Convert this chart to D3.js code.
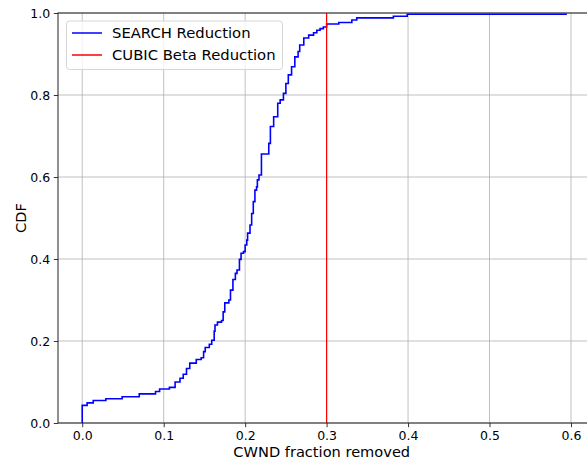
<!DOCTYPE html>
<html>
<head>
<meta charset="utf-8">
<script src="https://cdn.jsdelivr.net/npm/d3@7"></script>
<style>
  html, body { margin: 0; padding: 0; background: #fff; }
  svg { display: block; font-family: "DejaVu Sans", sans-serif; }
</style>
</head>
<body>
<div id="chart"></div>
<script>
// CDF of the SEARCH reduction
const searchX = [0.000, 0.000, 0.006, 0.0135, 0.029, 0.049, 0.070, 0.090, 0.095, 0.107,
  0.114, 0.120, 0.124, 0.128, 0.132, 0.140, 0.146, 0.149, 0.151, 0.156,
  0.159, 0.162, 0.163, 0.166, 0.171, 0.173, 0.175, 0.180, 0.182, 0.185,
  0.188, 0.190, 0.193, 0.195, 0.198, 0.200, 0.202, 0.203, 0.206, 0.208,
  0.210, 0.212, 0.214, 0.215, 0.217, 0.220, 0.229, 0.231, 0.235, 0.240,
  0.243, 0.247, 0.250, 0.253, 0.257, 0.261, 0.265, 0.267, 0.272, 0.278,
  0.284, 0.288, 0.292, 0.296, 0.300, 0.315, 0.331, 0.337, 0.382, 0.399, 0.595];
const searchCdf = [0.000, 0.043, 0.049, 0.055, 0.059, 0.064, 0.071, 0.077, 0.083, 0.087,
  0.100, 0.109, 0.119, 0.133, 0.146, 0.155, 0.159, 0.174, 0.184, 0.192,
  0.202, 0.224, 0.239, 0.246, 0.250, 0.271, 0.293, 0.300, 0.324, 0.350,
  0.365, 0.373, 0.399, 0.414, 0.418, 0.434, 0.446, 0.463, 0.483, 0.511,
  0.540, 0.568, 0.576, 0.593, 0.605, 0.656, 0.682, 0.723, 0.747, 0.780,
  0.788, 0.804, 0.828, 0.849, 0.869, 0.893, 0.906, 0.922, 0.939, 0.946,
  0.952, 0.958, 0.962, 0.966, 0.973, 0.977, 0.983, 0.988, 0.992, 0.997, 0.997];
const cubicBeta = 0.3;

const xTicks = [0.0, 0.1, 0.2, 0.3, 0.4, 0.5, 0.6];
const yTicks = [0.0, 0.2, 0.4, 0.6, 0.8, 1.0];
const legendLabels = ["SEARCH Reduction", "CUBIC Beta Reduction"];
const legendColors = ["#0000ff", "#ff0000"];

const WIDTH = 587;
const HEIGHT = 466;
const PLOT = { left: 58, right: 589.5, top: 13, bottom: 423 };

const points = searchX.map((x, i) => ({ x, y: searchCdf[i] }));

const xScale = d3.scaleLinear().domain([-0.02975, 0.62275]).range([PLOT.left, PLOT.right]);
const yScale = d3.scaleLinear().domain([0, 1]).range([PLOT.bottom, PLOT.top]);

const svg = d3.select("#chart").append("svg")
  .attr("width", WIDTH)
  .attr("height", HEIGHT)
  .attr("viewBox", `0 0 ${WIDTH} ${HEIGHT}`);

svg.append("defs").append("clipPath").attr("id", "plot-clip")
  .append("rect")
  .attr("x", PLOT.left).attr("y", PLOT.top - 2)
  .attr("width", PLOT.right - PLOT.left).attr("height", PLOT.bottom - PLOT.top + 2);

// grid
svg.append("g")
  .selectAll("line")
  .data(xTicks)
  .join("line")
  .attr("x1", (d) => xScale(d)).attr("x2", (d) => xScale(d))
  .attr("y1", PLOT.top).attr("y2", PLOT.bottom)
  .attr("stroke", "#b0b0b0").attr("stroke-width", 0.8);

svg.append("g")
  .selectAll("line")
  .data(yTicks)
  .join("line")
  .attr("x1", PLOT.left).attr("x2", PLOT.right)
  .attr("y1", (d) => yScale(d)).attr("y2", (d) => yScale(d))
  .attr("stroke", "#b0b0b0").attr("stroke-width", 0.8);

// series
const line = d3.line()
  .x((d) => xScale(d.x))
  .y((d) => yScale(d.y))
  .curve(d3.curveStepAfter);

svg.append("path")
  .datum(points)
  .attr("clip-path", "url(#plot-clip)")
  .attr("d", line)
  .attr("fill", "none")
  .attr("stroke", legendColors[0])
  .attr("stroke-width", 1.6);

svg.append("line")
  .attr("x1", xScale(cubicBeta)).attr("x2", xScale(cubicBeta))
  .attr("y1", yScale(0)).attr("y2", yScale(1))
  .attr("stroke", legendColors[1])
  .attr("stroke-width", 1.2);

// axes
const xAxis = d3.axisBottom(xScale).tickValues(xTicks).tickFormat(d3.format(".1f"))
  .tickSizeInner(4.2).tickSizeOuter(0).tickPadding(3.6);
const yAxis = d3.axisLeft(yScale).tickValues(yTicks).tickFormat(d3.format(".1f"))
  .tickSizeInner(4.2).tickSizeOuter(0).tickPadding(3.6);

const styleAxis = (g) => {
  g.selectAll("text").attr("fill", "#000").attr("font-size", 12.5)
    .attr("font-family", "DejaVu Sans, sans-serif");
  g.selectAll("line").attr("stroke", "#000").attr("stroke-width", 0.8);
  g.select(".domain").remove();
};

svg.append("g")
  .attr("transform", `translate(0,${PLOT.bottom})`)
  .call(xAxis)
  .call(styleAxis);

svg.append("g")
  .attr("transform", `translate(${PLOT.left},0)`)
  .call(yAxis)
  .call(styleAxis);

// spines
svg.append("rect")
  .attr("x", PLOT.left).attr("y", PLOT.top)
  .attr("width", PLOT.right - PLOT.left).attr("height", PLOT.bottom - PLOT.top)
  .attr("fill", "none").attr("stroke", "#222").attr("stroke-width", 1);

// axis labels
svg.append("text")
  .attr("x", (PLOT.left + PLOT.right) / 2 - 2)
  .attr("y", 456.5)
  .attr("text-anchor", "middle")
  .attr("font-size", 14.6)
  .text("CWND fraction removed");

svg.append("text")
  .attr("transform", `translate(26,${(PLOT.top + PLOT.bottom) / 2}) rotate(-90)`)
  .attr("text-anchor", "middle")
  .attr("font-size", 14.6)
  .text("CDF");

// legend
const legend = svg.append("g");
legend.append("rect")
  .attr("x", 66.5).attr("y", 21)
  .attr("width", 216).attr("height", 48.5)
  .attr("rx", 3)
  .attr("fill", "#fff").attr("fill-opacity", 0.8)
  .attr("stroke", "#cccccc").attr("stroke-width", 0.8);

const items = legend.selectAll("g.item")
  .data(legendLabels)
  .join("g")
  .attr("class", "item")
  .attr("transform", (d, i) => `translate(0,${33 + i * 22})`);

items.append("line")
  .attr("x1", 72).attr("x2", 102)
  .attr("stroke", (d, i) => legendColors[i])
  .attr("stroke-width", 1.5);

items.append("text")
  .attr("x", 112)
  .attr("y", 5.2)
  .attr("font-size", 14.8)
  .attr("fill", "#000")
  .text((d) => d);
</script>
</body>
</html>
